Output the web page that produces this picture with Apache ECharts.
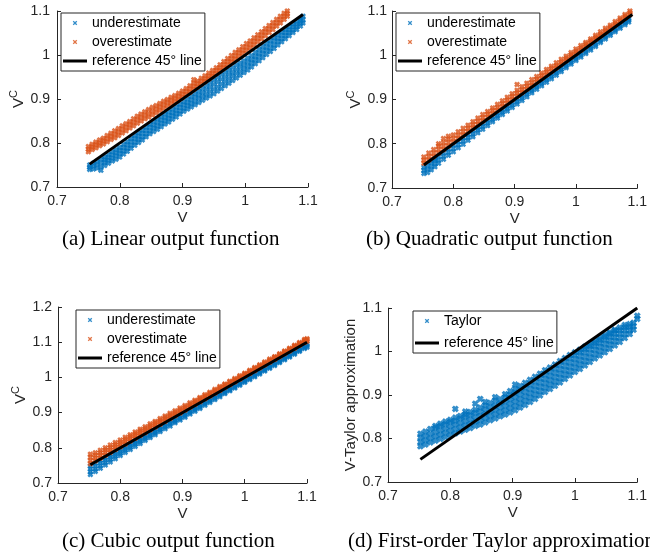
<!DOCTYPE html>
<html>
<head>
<meta charset="utf-8">
<script src="https://cdn.jsdelivr.net/npm/echarts@6/dist/echarts.min.js"></script>
<style>html,body{margin:0;padding:0;background:#fff}#c{width:650px;height:558px}</style>
</head>
<body>
<div id="c"></div>
<script>
// ---------- data: rows of [V, VC values at that V ...] ----------
const underA = [
[0.752,.740,.745,.750],[0.758,.741,.748,.754],[0.764,.743,.751,.758],[0.770,.738,.746,.755,.763],
[0.776,.749,.756,.762,.768],[0.782,.754,.761,.767,.774],[0.788,.759,.766,.773,.780],[0.794,.763,.771,.778,.785],
[0.800,.768,.776,.783,.790],[0.806,.775,.782,.790,.797],[0.812,.781,.788,.796,.803],[0.818,.788,.795,.803,.810],
[0.824,.795,.802,.810,.817],[0.830,.801,.808,.816,.823],[0.836,.807,.814,.822,.829],[0.842,.814,.821,.829,.836],
[0.848,.821,.828,.836,.843],[0.854,.826,.834,.841,.849],[0.860,.831,.839,.847,.855],[0.866,.837,.845,.852,.860],
[0.872,.843,.851,.858,.866],[0.878,.848,.856,.863,.871],[0.884,.854,.862,.869,.877],[0.890,.859,.867,.874,.882],
[0.896,.866,.873,.881,.888],[0.902,.872,.879,.887,.894],[0.908,.877,.885,.892,.900],[0.914,.882,.890,.898,.906],
[0.920,.887,.895,.904,.912],[0.926,.892,.901,.909,.918],[0.932,.897,.906,.915,.924],[0.938,.902,.911,.921,.930],
[0.944,.907,.917,.927,.937],[0.950,.912,.922,.933,.943],[0.956,.918,.928,.939,.949],[0.962,.924,.934,.945,.955],
[0.968,.930,.940,.950,.960],[0.974,.936,.946,.956,.966],[0.980,.942,.952,.961,.971],[0.986,.948,.958,.967,.977],
[0.992,.954,.963,.973,.982],[0.998,.960,.969,.978,.987],[1.004,.966,.975,.984,.993],[1.010,.973,.982,.990,.999],
[1.016,.980,.989,.997,1.006],[1.022,.987,.996,1.004,1.013],[1.028,.994,1.003,1.011,1.020],[1.034,1.001,1.010,1.018,1.027],
[1.040,1.008,1.016,1.025,1.033],[1.046,1.015,1.023,1.032,1.040],[1.052,1.023,1.031,1.038,1.046],[1.058,1.030,1.037,1.045,1.052],
[1.064,1.037,1.044,1.051,1.058],[1.070,1.044,1.051,1.057,1.064],[1.076,1.051,1.057,1.064,1.070],[1.082,1.058,1.064,1.070,1.076],
[1.088,1.066,1.072,1.078,1.083],[1.092,1.073,1.080,1.088]
];
const overA = [
[0.750,.780,.786,.792],[0.756,.785,.791,.797],[0.762,.789,.796,.802],[0.768,.794,.800,.807],[0.774,.798,.805,.811],
[0.780,.803,.810,.817],[0.786,.808,.815,.822],[0.792,.812,.820,.828],[0.798,.817,.825,.833],[0.804,.823,.831,.839],
[0.810,.828,.836,.844],[0.816,.834,.842,.849],[0.822,.839,.847,.855],[0.828,.845,.853,.861],[0.834,.850,.858,.866],
[0.840,.855,.863,.871],[0.846,.859,.867,.876],[0.852,.864,.872,.881],[0.858,.869,.877,.885],[0.864,.874,.882,.890],
[0.870,.879,.887,.895],[0.876,.884,.892,.899],[0.882,.889,.897,.904],[0.888,.894,.901,.908],[0.894,.899,.906,.913],
[0.900,.904,.911,.918],[0.906,.910,.917,.924],[0.912,.916,.923,.930],[0.918,.922,.929,.936,.944],[0.924,.928,.935,.941],
[0.930,.934,.941,.947],[0.936,.940,.946,.953],[0.942,.946,.952,.959],[0.948,.952,.958,.965],[0.954,.958,.965,.971],
[0.960,.965,.971,.978],[0.966,.971,.978,.985],[0.972,.978,.985,.992],[0.978,.984,.991,.999],[0.984,.991,.998,1.006],
[0.990,.997,1.005,1.012],[0.996,1.004,1.011,1.019],[1.002,1.010,1.018,1.026],[1.008,1.016,1.024,1.032],[1.014,1.023,1.031,1.039],
[1.020,1.030,1.038,1.046],[1.026,1.037,1.045,1.053],[1.032,1.044,1.052,1.060],[1.038,1.051,1.059,1.067],[1.044,1.058,1.066,1.074],
[1.050,1.066,1.073,1.081],[1.056,1.073,1.080,1.088],[1.062,1.081,1.088,1.095],[1.067,1.088,1.094,1.100]
];
const underB = [
[0.752,.733,.740,.747],[0.758,.735,.743,.751],[0.764,.741,.749,.757,.762],[0.770,.748,.755,.762,.766],[0.776,.756,.763,.771],
[0.784,.765,.772,.779],[0.792,.774,.781,.788],[0.800,.782,.789,.797],[0.808,.791,.798,.805],[0.816,.799,.806,.813],
[0.824,.808,.814,.821],[0.832,.816,.822,.829],[0.840,.825,.831,.837],[0.848,.833,.839,.845],[0.856,.841,.847,.853],
[0.864,.850,.855,.861],[0.872,.858,.863,.869],[0.880,.866,.871,.877],[0.888,.874,.879,.885],[0.896,.882,.887,.893],
[0.904,.890,.895,.901],[0.912,.898,.903,.909],[0.920,.906,.912,.917],[0.928,.915,.920,.925],[0.936,.923,.928,.933],
[0.944,.931,.936,.941],[0.952,.939,.944,.949],[0.960,.947,.952,.957],[0.968,.955,.960,.965],[0.976,.963,.968,.973],
[0.984,.972,.976,.981],[0.992,.980,.984,.989],[1.000,.988,.992,.997],[1.008,.996,1.000,1.005],[1.016,1.004,1.008,1.013],
[1.024,1.012,1.016,1.021],[1.032,1.020,1.024,1.029],[1.040,1.029,1.033,1.037],[1.048,1.037,1.041,1.045],[1.056,1.045,1.049,1.053],
[1.064,1.053,1.057,1.061],[1.072,1.061,1.065,1.069],[1.080,1.069,1.073,1.077],[1.086,1.075,1.079,1.083]
];
const overB = [
[0.752,.756,.763,.770],[0.760,.763,.771,.779],[0.768,.771,.779,.787],[0.776,.779,.787,.795,.800],[0.784,.787,.795,.803,.812],
[0.792,.795,.803,.811,.817],[0.800,.804,.812,.820],[0.808,.812,.819,.827],[0.816,.820,.827,.835],[0.824,.828,.835,.842],
[0.832,.836,.843,.850],[0.840,.844,.851,.858],[0.848,.852,.859,.866],[0.856,.860,.867,.873],[0.864,.868,.875,.881],
[0.872,.876,.882,.889],[0.880,.884,.891,.897],[0.888,.892,.899,.905],[0.896,.900,.907,.913],[0.904,.908,.915,.921,.934],
[0.912,.916,.922,.929],[0.920,.924,.930,.937],[0.928,.932,.938,.945],[0.936,.940,.946,.952],[0.944,.948,.954,.960],
[0.952,.956,.962,.968],[0.960,.964,.970,.975],[0.968,.972,.977,.983],[0.976,.980,.985,.991],[0.984,.988,.993,.998],
[0.992,.996,1.001,1.006],[1.000,1.004,1.009,1.014],[1.008,1.012,1.017,1.022],[1.016,1.020,1.025,1.029],[1.024,1.028,1.033,1.037],
[1.032,1.036,1.040,1.045],[1.040,1.044,1.048,1.053],[1.048,1.052,1.056,1.061],[1.056,1.060,1.064,1.068],[1.064,1.068,1.072,1.076],
[1.072,1.076,1.080,1.084],[1.080,1.084,1.088,1.092],[1.088,1.092,1.096,1.100]
];
const underC = [
[0.752,.724,.732,.740,.748],[0.760,.733,.740,.748,.756],[0.768,.742,.749,.757,.764],[0.776,.751,.758,.765,.772],
[0.784,.760,.767,.774,.780],[0.792,.769,.776,.782,.788],[0.800,.778,.784,.790,.796],[0.808,.787,.793,.799,.804],
[0.816,.795,.801,.807,.812],[0.824,.804,.810,.815,.820],[0.832,.812,.818,.823,.828],[0.840,.821,.826,.831,.836],
[0.848,.829,.834,.839,.844],[0.856,.837,.842,.847,.852],[0.864,.846,.851,.855,.860],[0.872,.854,.859,.863,.868],
[0.880,.862,.867,.871,.876],[0.888,.871,.875,.879,.884],[0.896,.879,.883,.887,.892],[0.904,.887,.891,.895,.900],
[0.912,.896,.900,.904,.908],[0.920,.904,.908,.912,.916],[0.928,.912,.916,.920,.924],[0.936,.921,.925,.928,.932],
[0.944,.929,.933,.936,.940],[0.952,.937,.941,.944,.948],[0.960,.945,.949,.952,.956],[0.968,.954,.957,.960,.964],
[0.976,.962,.965,.968,.972],[0.984,.970,.973,.976,.980],[0.992,.978,.981,.984,.988],[1.000,.986,.989,.992,.996],
[1.008,.994,.997,1.000,1.004],[1.016,1.002,1.005,1.008,1.012],[1.024,1.010,1.013,1.016,1.020],[1.032,1.018,1.021,1.024,1.028],
[1.040,1.026,1.029,1.032,1.036],[1.048,1.034,1.037,1.040,1.044],[1.056,1.042,1.045,1.048,1.052],[1.064,1.050,1.053,1.056,1.060],
[1.072,1.058,1.061,1.064,1.068],[1.080,1.066,1.069,1.072,1.076],[1.088,1.074,1.077,1.080,1.084],[1.096,1.082,1.085,1.088,1.092],
[1.100,1.086,1.090,1.095]
];
const overC = [
[0.752,.755,.764,.773,.782],[0.760,.763,.771,.779,.786],[0.768,.771,.779,.786,.793],[0.776,.779,.787,.794,.800],
[0.784,.787,.794,.801,.808],[0.792,.795,.802,.809,.815],[0.800,.803,.810,.816,.822],[0.808,.811,.818,.824,.830],
[0.816,.819,.826,.832,.837],[0.824,.827,.834,.840,.845],[0.832,.835,.842,.848,.853],[0.840,.843,.849,.855,.860],
[0.848,.851,.857,.863,.868],[0.856,.859,.865,.871,.875],[0.864,.867,.873,.878,.883],[0.872,.875,.881,.886,.890],
[0.880,.883,.889,.894,.898],[0.888,.891,.896,.901,.905],[0.896,.899,.904,.909,.913],[0.904,.907,.912,.916,.920],
[0.912,.915,.920,.924,.928],[0.920,.923,.928,.932,.935],[0.928,.931,.936,.940,.943],[0.936,.939,.944,.947,.951],
[0.944,.947,.952,.955,.958],[0.952,.955,.960,.963,.966],[0.960,.963,.967,.971,.974],[0.968,.971,.975,.979,.981],
[0.976,.979,.983,.987,.989],[0.984,.987,.991,.994,.997],[0.992,.995,.999,1.002,1.005],[1.000,1.003,1.007,1.010,1.012],
[1.008,1.011,1.015,1.018,1.020],[1.016,1.019,1.023,1.026,1.028],[1.024,1.027,1.031,1.033,1.036],[1.032,1.035,1.039,1.041,1.044],
[1.040,1.043,1.047,1.049,1.052],[1.048,1.051,1.055,1.057,1.059],[1.056,1.059,1.063,1.065,1.067],[1.064,1.067,1.071,1.073,1.075],
[1.072,1.075,1.079,1.081,1.083],[1.080,1.083,1.087,1.089,1.091],[1.088,1.091,1.095,1.097,1.099],[1.096,1.099,1.103,1.105,1.108],
[1.100,1.103,1.107,1.110]
];
const taylorD = [
[0.752,.782,.792,.802,.811],[0.760,.786,.796,.806,.816],[0.768,.791,.801,.811,.822],[0.776,.795,.805,.815,.825,.829],
[0.784,.799,.809,.819,.829,.834],[0.792,.803,.813,.823,.833,.839],[0.800,.808,.818,.828,.838,.843],[0.808,.812,.822,.832,.841,.848,.868],
[0.816,.816,.826,.836,.846,.852],[0.824,.820,.830,.840,.850,.856,.862],[0.832,.824,.834,.844,.854,.861],[0.840,.829,.839,.849,.859,.866,.880],
[0.848,.832,.842,.852,.862,.871,.891],[0.856,.837,.847,.857,.867,.876,.884],[0.864,.842,.852,.862,.872,.882],[0.872,.846,.856,.866,.876,.887,.895],
[0.880,.851,.861,.871,.881,.891],[0.888,.855,.865,.875,.885,.895,.902],[0.896,.860,.870,.880,.890,.900,.909],[0.904,.865,.875,.885,.895,.905,.914,.924],
[0.912,.871,.881,.891,.901,.911,.921],[0.920,.877,.887,.897,.907,.917,.928],[0.928,.884,.894,.904,.914,.924,.935],[0.936,.891,.901,.911,.921,.931,.942],
[0.944,.899,.909,.919,.929,.939,.949],[0.952,.907,.917,.927,.937,.947,.957],[0.960,.914,.924,.934,.944,.954,.963],[0.968,.921,.931,.941,.951,.961,.970],
[0.976,.929,.939,.949,.959,.969,.978],[0.984,.937,.947,.957,.967,.977,.985],[0.992,.945,.955,.965,.975,.985,.992],[1.000,.953,.963,.973,.983,.992,.998],
[1.008,.960,.970,.980,.990,.999,1.004],[1.016,.968,.978,.988,.998,1.006,1.011],[1.024,.976,.986,.996,1.006,1.013,1.018],[1.032,.984,.994,1.004,1.013,1.020,1.025],
[1.040,.991,1.001,1.011,1.020,1.027,1.032],[1.048,.998,1.008,1.018,1.027,1.034,1.038],[1.056,1.006,1.016,1.025,1.034,1.041,1.044],[1.064,1.014,1.024,1.033,1.041,1.048,1.050],
[1.072,1.022,1.032,1.041,1.049,1.055],[1.080,1.031,1.040,1.049,1.056,1.061],[1.088,1.040,1.049,1.057,1.063],[1.094,1.050,1.058,1.066],
[1.100,1.075,1.082]
];
const refA = [[0.752,0.752],[1.092,1.092]];
const refB = [[0.752,0.752],[1.092,1.092]];
const refC = [[0.752,0.752],[1.100,1.100]];
const refD = [[0.752,0.752],[1.100,1.100]];
const captions = ['(a) Linear output function','(b) Quadratic output function','(c) Cubic output function','(d) First-order Taylor approximation'];
const UNDER = 'underestimate', OVER = 'overestimate', TAY = 'Taylor', REF = 'reference 45\u00B0 line';

// ---------- styling ----------
const BLUE = '#0072BD', ORANGE = '#D95319', AX = '#262626';
const SANS = '"Liberation Sans", Arial, Helvetica, sans-serif';
const SERIF = '"Liberation Serif", "Times New Roman", serif';
const X_PATH = 'path://M0,3L3,0L5,2L7,0L10,3L8,5L10,7L7,10L5,8L3,10L0,7L2,5Z';
const X_ICON = 'path://M0,0M24,14M9.75,5.65L10.65,4.75L12,6.1L13.35,4.75L14.25,5.65L12.9,7L14.25,8.35L13.35,9.25L12,7.9L10.65,9.25L9.75,8.35L11.1,7Z';
const LINE_ICON = 'path://M0,5.5L24,5.5L24,8.5L0,8.5Z';

function pts(rows){ const out=[]; rows.forEach(r=>{ for(let i=1;i<r.length;i++) out.push([r[0], r[i]]); }); return out; }

const grids = [
  {left:57, top:11, width:251, height:176},
  {left:392, top:11, width:253, height:177},
  {left:58, top:307, width:249, height:176},
  {left:388, top:308, width:254, height:174}
];
const yNames = ['{v|V}{s|C}','{v|V}{s|C}','{v|V}{s|C}','{v|V-Taylor approximation}'];
const yMax = [1.1,1.1,1.2,1.1];
const yGaps = [30,29,29,29];
const yLabelMargin = [7,5,6,6];

function xAxis(i){ return {type:'value', gridIndex:i, min:0.7, max:1.1, interval:0.1,
  name:'V', nameLocation:'middle', nameGap:23,
  nameTextStyle:{fontFamily:SANS, fontSize:15, color:AX},
  axisLine:{lineStyle:{color:AX, width:1}}, axisTick:{inside:true, length:4, lineStyle:{color:AX}},
  axisLabel:{fontFamily:SANS, fontSize:14, color:AX, margin:7}, splitLine:{show:false}}; }
function yAxis(i){ return {type:'value', gridIndex:i, min:0.7, max:yMax[i], interval:0.1,
  name:yNames[i], nameLocation:'middle', nameRotate:90, nameGap:yGaps[i],
  nameTextStyle:{fontFamily:SANS, color:AX, rich:{
    v:{fontFamily:SANS, fontSize:15, color:AX, lineHeight:18, verticalAlign:'bottom'},
    s:{fontFamily:SANS, fontSize:11, color:AX, lineHeight:11, verticalAlign:'top'}}},
  axisLine:{lineStyle:{color:AX, width:1}}, axisTick:{inside:true, length:4, lineStyle:{color:AX}},
  axisLabel:{fontFamily:SANS, fontSize:14, color:AX, margin:yLabelMargin[i]}, splitLine:{show:false}}; }

function scatter(name, i, rows, color, size){ return {type:'scatter', name:name, xAxisIndex:i, yAxisIndex:i, data:pts(rows),
  symbol:X_PATH, symbolSize:size, itemStyle:{color:color}, z:2, silent:true}; }
function refLine(i, data){ return {type:'line', name:REF, xAxisIndex:i, yAxisIndex:i, data:data, symbol:'none',
  lineStyle:{color:'#000', width:3}, itemStyle:{color:'#000'}, z:5, silent:true}; }

function legend(left, top, names, gap){ return {orient:'vertical', left:left, top:top, itemWidth:24, itemHeight:14, itemGap:gap,
  padding:[3,3,3,2], borderColor:AX, borderWidth:1, backgroundColor:'#fff', selectedMode:false,
  textStyle:{fontFamily:SANS, fontSize:14, color:'#000'},
  data:names.map(n => n===REF ? {name:n, icon:LINE_ICON, itemStyle:{color:'#000'}} :
    {name:n, icon:X_ICON, itemStyle:{color: n===OVER ? ORANGE : BLUE}})}; }

const capPos = [[62,229],[366,229],[62,531],[348,531]];

const option = {
  animation:false,
  backgroundColor:'#fff',
  title: captions.map((t,i)=>({text:t, left:capPos[i][0], top:capPos[i][1], padding:0,
    textStyle:{fontFamily:SERIF, fontSize:21, fontWeight:'normal', color:'#000'}})),
  grid: grids,
  xAxis: [0,1,2,3].map(xAxis),
  yAxis: [0,1,2,3].map(yAxis),
  legend: [
    legend(61,13,[UNDER,OVER,REF],5),
    legend(396,13,[UNDER,OVER,REF],5),
    legend(76,310,[UNDER,OVER,REF],5),
    legend(413,311,[TAY,REF],8)
  ],
  series: [
    scatter(UNDER,0,underA,BLUE,6), scatter(OVER,0,overA,ORANGE,6), refLine(0,refA),
    scatter(UNDER,1,underB,BLUE,6), scatter(OVER,1,overB,ORANGE,6), refLine(1,refB),
    scatter(UNDER,2,underC,BLUE,6), scatter(OVER,2,overC,ORANGE,6), refLine(2,refC),
    scatter(TAY,3,taylorD,BLUE,7), refLine(3,refD)
  ]
};
const chart = echarts.init(document.getElementById('c'), null, {renderer:'canvas'});
chart.setOption(option);
</script>
</body>
</html>
